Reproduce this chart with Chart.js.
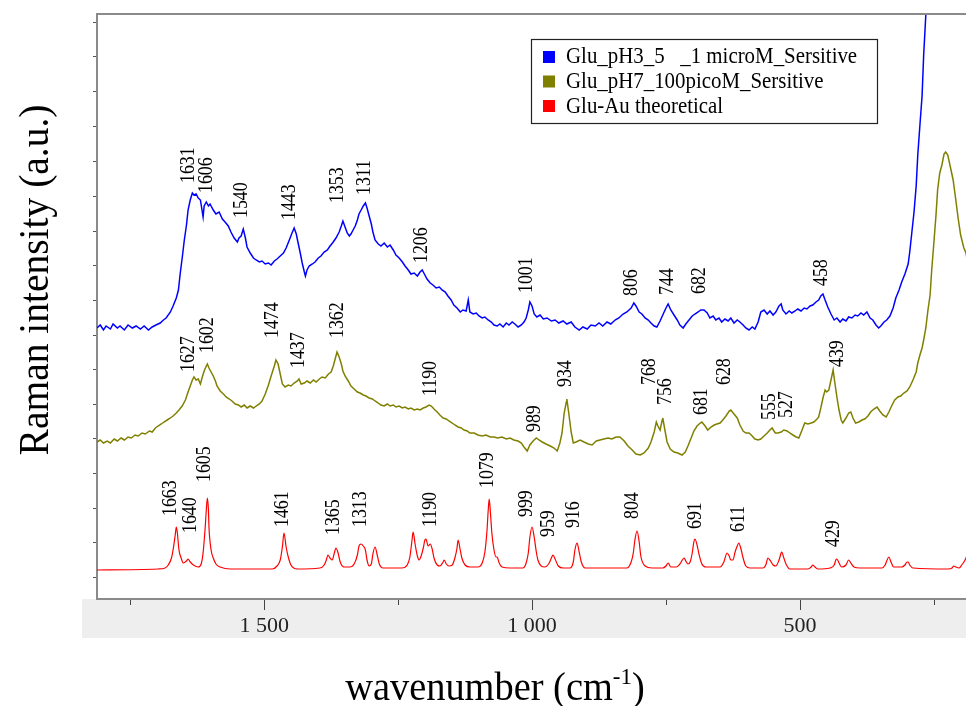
<!DOCTYPE html>
<html lang="en">
<head>
<meta charset="UTF-8">
<title>Raman spectra</title>
<script src="https://cdn.jsdelivr.net/npm/chart.js"></script>
<style>
  body { margin: 0; background: #fff; }
  #wrap { width: 966px; height: 706px; }
</style>
</head>
<body>
<div id="wrap"><canvas id="spec" width="966" height="706"></canvas></div>
<script>
// values: wavenumber (cm-1) and intensity (a.u., offset spectra)
const blueWn = [1812,1806,1800,1795,1787,1782,1774,1769,1761,1754,1746,1739,1731,1724,1716,1709,1702,1694,1688,1683,
  1675,1670,1664,1660,1657,1653,1649,1645,1642,1638,1634,1631,1627,1623,1619,1616,1614,1612,1608,1604,
  1601,1595,1590,1584,1578,1573,1567,1562,1556,1550,1547,1543,1539,1535,1532,1526,1520,1515,1509,1504,
  1498,1492,1487,1481,1476,1470,1464,1459,1453,1448,1444,1440,1437,1433,1429,1425,1423,1420,1416,1410,
  1405,1399,1394,1388,1382,1377,1371,1366,1360,1356,1353,1349,1345,1341,1338,1334,1330,1326,1323,1319,
  1315,1311,1308,1304,1300,1297,1293,1287,1282,1276,1270,1265,1259,1254,1248,1242,1237,1231,1226,1220,
  1214,1209,1205,1201,1196,1190,1185,1179,1173,1168,1162,1157,1151,1146,1140,1134,1129,1123,1119,1116,
  1110,1104,1099,1093,1088,1082,1076,1071,1065,1060,1054,1048,1043,1037,1032,1026,1020,1015,1011,1007,
  1004,1000,996,991,985,979,972,964,957,950,942,935,927,920,912,905,897,890,882,875,
  868,860,853,845,838,830,823,815,810,806,800,795,789,783,778,772,767,761,756,750,
  746,741,735,729,724,718,713,707,701,696,690,685,679,673,668,662,657,651,646,640,
  634,629,623,617,612,606,601,595,589,584,578,573,567,561,556,550,545,539,535,532,
  526,520,515,509,504,498,492,487,481,476,470,465,461,457,453,448,442,436,431,425,
  420,414,409,403,397,392,386,381,375,369,364,358,353,349,343,338,332,326,321,315,
  310,304,298,295,291,287,283,280,276,272,269,265,261];
const blueInt = [271,274,269,273,270,275,271,273,269,274,271,273,270,273,269,272,274,276,279,281,
  287,293,301,309,324,341,359,374,389,399,406,404,405,401,399,389,382,393,397,393,
  395,389,385,387,380,377,373,367,361,357,361,363,370,361,352,346,341,339,337,338,
  335,336,334,338,340,343,346,351,359,366,371,365,357,347,336,327,323,329,333,335,
  337,341,343,347,349,353,357,361,367,373,378,372,366,363,365,369,373,379,385,389,
  393,396,391,383,375,367,359,355,353,356,352,354,349,344,341,337,333,329,325,326,
  323,327,329,325,320,316,314,311,312,309,307,303,299,294,291,287,289,288,299,287,
  285,286,283,281,282,279,277,274,273,275,272,276,274,277,275,272,274,277,281,289,
  297,293,285,282,284,280,281,278,279,276,278,275,277,272,269,272,270,274,273,276,
  273,277,275,279,281,285,287,291,296,293,287,285,281,279,276,273,272,278,284,291,
  295,289,284,279,274,271,275,279,283,285,287,289,289,286,281,283,279,281,277,280,
  278,281,276,279,277,274,271,269,272,270,277,287,289,285,288,284,287,293,295,289,
  285,288,286,288,290,288,291,290,293,294,297,299,303,305,299,292,285,279,281,277,
  280,278,282,281,284,283,286,284,287,281,279,274,271,273,277,279,283,291,301,309,
  317,325,335,347,367,387,413,444,474,503,544,584,629];

const oliveWn = [1812,1806,1800,1793,1787,1780,1774,1767,1761,1754,1748,1741,1735,1728,1722,1714,1709,1703,1698,1692,
  1687,1681,1675,1670,1664,1659,1653,1647,1642,1638,1634,1631,1627,1623,1619,1616,1612,1608,1606,1603,
  1599,1595,1591,1588,1582,1576,1571,1565,1560,1554,1548,1543,1537,1532,1526,1520,1515,1509,1504,1498,
  1492,1487,1481,1478,1474,1470,1466,1461,1455,1450,1444,1438,1435,1431,1425,1420,1414,1408,1403,1397,
  1392,1386,1380,1375,1371,1367,1364,1360,1356,1353,1349,1343,1338,1332,1326,1321,1315,1310,1304,1298,
  1293,1287,1282,1276,1270,1265,1259,1254,1248,1242,1237,1231,1226,1220,1214,1209,1203,1198,1192,1188,
  1183,1177,1172,1166,1160,1155,1149,1144,1138,1132,1127,1121,1116,1108,1101,1093,1086,1078,1071,1064,
  1056,1048,1041,1034,1026,1020,1015,1009,1004,998,992,987,981,974,966,959,953,948,944,940,
  936,935,931,927,923,918,910,903,895,888,880,873,866,858,851,843,836,828,821,813,
  806,798,791,783,778,772,768,765,761,757,756,752,748,742,735,728,720,714,709,703,
  698,692,686,683,677,672,666,660,655,649,644,638,632,629,623,617,612,606,601,595,
  589,584,578,573,567,561,556,552,546,541,535,530,524,519,513,507,502,496,491,485,
  479,474,468,465,461,457,453,450,446,442,438,435,431,427,423,420,414,409,405,401,
  396,390,384,379,373,368,362,356,351,345,339,334,328,323,317,312,306,300,295,289,
  283,280,276,272,269,265,261,257,254,250,246,243,239,235,231,228,224,220,214,209,
  205,200,194,190,187];
const oliveInt = [157,159,156,158,156,160,158,161,159,162,161,164,163,166,165,168,167,171,173,175,
  177,179,181,183,186,189,193,199,207,213,219,222,219,220,215,221,228,233,235,231,
  227,223,218,213,208,205,202,200,198,195,194,192,194,191,193,191,193,195,198,205,
  214,223,233,239,235,225,215,212,214,213,216,218,220,215,216,218,216,219,217,220,
  222,221,225,227,233,241,247,242,235,228,223,218,213,210,207,206,204,203,201,200,
  198,196,194,193,195,193,194,192,193,191,192,190,191,189,190,189,191,192,194,193,
  190,187,184,181,180,178,176,174,172,171,169,168,166,166,164,163,164,162,162,161,
  162,160,161,159,158,156,152,148,154,158,161,159,157,155,153,151,148,156,166,186,
  197,200,184,167,156,157,159,157,155,154,158,159,160,161,160,162,162,158,153,149,
  145,144,146,151,157,167,177,173,169,179,181,169,157,150,147,146,144,147,153,161,
  168,173,176,177,173,169,172,174,175,176,179,183,188,189,185,181,174,168,166,166,
  163,160,159,160,163,166,169,171,166,166,167,169,168,166,164,162,161,169,176,175,
  176,177,180,182,191,201,209,207,209,219,229,217,202,189,179,176,181,186,187,181,
  176,177,179,180,183,187,190,192,188,184,182,187,194,199,202,203,206,208,212,219,
  227,236,244,251,259,271,289,304,329,356,384,409,426,434,445,447,444,434,419,399,
  382,364,351,346,337];

const redWn = [1812,1698,1685,1679,1673,1670,1666,1664,1662,1659,1655,1651,1645,1642,1638,1632,1623,1617,1614,1610,
  1608,1606,1604,1603,1599,1595,1590,1582,1563,1485,1476,1470,1466,1463,1459,1455,1450,1438,1396,1388,
  1384,1381,1377,1373,1369,1366,1362,1358,1351,1340,1332,1326,1323,1319,1315,1311,1308,1304,1300,1297,
  1293,1289,1285,1278,1243,1233,1228,1224,1222,1218,1214,1211,1207,1203,1200,1198,1194,1190,1186,1183,
  1177,1172,1166,1164,1160,1155,1149,1144,1140,1138,1134,1131,1125,1116,1101,1093,1088,1084,1082,1080,
  1078,1075,1071,1067,1065,1062,1056,1041,1017,1011,1007,1004,1000,996,992,989,983,976,968,964,
  961,957,951,942,929,923,920,916,912,908,901,873,823,815,811,808,804,800,797,789,
  776,756,750,746,741,731,724,716,713,709,705,701,698,696,692,688,683,675,649,642,
  636,632,629,625,621,617,614,610,606,601,593,569,563,560,556,550,545,539,535,534,
  530,526,519,485,479,476,472,466,444,436,433,431,427,422,414,409,405,399,388,347,
  341,338,334,330,325,310,304,300,298,295,289,224,216,213,209,203,198,194,190,187];
const redInt = [29,30,31,34,41,49,64,72,66,49,41,36,38,40,37,34,32,36,46,72,
  89,101,89,72,49,41,35,32,30,30,33,39,52,66,52,42,34,30,31,34,
  39,44,41,39,46,51,46,37,32,32,35,44,53,55,53,49,39,33,35,45,
  52,44,35,31,31,34,42,59,67,54,43,39,43,51,59,60,53,55,49,41,
  34,33,37,39,35,33,34,41,51,59,49,41,34,32,32,36,47,69,87,100,
  89,66,49,42,42,37,32,31,31,36,46,62,72,62,47,39,33,32,36,41,
  44,40,33,31,31,37,49,56,47,37,31,31,31,37,46,59,68,57,43,33,
  31,31,33,36,32,32,35,41,38,35,37,46,57,60,54,44,35,32,32,37,
  46,43,39,39,47,53,56,50,41,33,31,31,35,41,39,34,33,39,46,47,
  41,35,30,30,32,34,32,30,31,34,39,40,36,32,34,39,36,32,31,31,
  34,38,42,37,32,32,34,37,37,34,31,30,31,33,32,31,34,37,41,47];

const seriesNames = ['Glu_pH3_5   _1 microM_Sersitive', 'Glu_pH7_100picoM_Sersitive', 'Glu-Au theoretical'];
const seriesColors = ['#0000ff', '#808000', '#ff0000'];

// peak labels: text, wavenumber where the label sits, intensity at the label foot
const bluePeaks = [['1631',1641,416],['1606',1607,406],['1540',1543,381],['1443',1453,379],['1353',1363,396],
  ['1311',1312,404],['1206',1206,336],['1001',1010,306],['806',814,303],['744',748,304],['682',688,305],['458',459,313]];
const olivePeaks = [['1627',1641,227],['1602',1606,246],['1474',1484,261],['1437',1436,231],['1362',1364,261],
  ['1190',1190,203],['989',996,167],['934',938,212],['768',781,214],['756',751,194],['681',683,184],
  ['628',640,214],['555',557,179],['527',525,181],['439',429,232]];
const redPeaks = [['1663',1674,83],['1640',1638,66],['1605',1612,117],['1461',1465,72],['1365',1371,64],
  ['1313',1320,72],['1190',1190,72],['1079',1084,111],['999',1011,82],['959',970,62],['916',923,71],
  ['804',812,80],['691',695,70],['611',615,67],['429',438,52]];

const xTicks = [250, 500, 750, 1000, 1250, 1500, 1750];
const xLabelled = [500, 1000, 1500];
const yTicks = [22, 57, 91, 126, 161, 195, 230, 264, 299, 334, 368, 403, 438, 472, 507, 542, 576];

const serif = "'Liberation Serif', 'Times New Roman', serif";

function squeezeText(ctx, str, x, y, size, sx, rot, align, base) {
  ctx.save();
  ctx.translate(x, y);
  if (rot) ctx.rotate(rot);
  ctx.scale(sx, 1);
  ctx.font = size + 'px ' + serif;
  ctx.fillStyle = '#000';
  ctx.textAlign = align || 'left';
  ctx.textBaseline = base || 'alphabetic';
  ctx.fillText(str, 0, 0);
  ctx.restore();
}

const decor = {
  id: 'decor',
  beforeDraw(chart) {
    const { ctx, chartArea: a } = chart;
    ctx.save();
    ctx.fillStyle = '#eeeeee';
    ctx.fillRect(82, a.bottom, chart.width - 82, 39);
    ctx.restore();
  },
  afterDraw(chart) {
    const { ctx, chartArea: a, scales: { x, y } } = chart;
    ctx.save();
    // top frame line
    ctx.strokeStyle = '#8a8a8a';
    ctx.lineWidth = 2;
    ctx.beginPath();
    ctx.moveTo(a.left - 1, a.top);
    ctx.lineTo(a.right, a.top);
    ctx.stroke();
    // x tick marks, long at the labelled ones
    ctx.strokeStyle = '#444';
    ctx.lineWidth = 1;
    xTicks.forEach(v => {
      const px = Math.round(x.getPixelForValue(v)) + 0.5;
      const len = xLabelled.includes(v) ? 10 : 5;
      ctx.beginPath();
      ctx.moveTo(px, a.bottom + 1);
      ctx.lineTo(px, a.bottom + 1 + len);
      ctx.stroke();
    });
    ctx.restore();

    // peak labels
    [bluePeaks, olivePeaks, redPeaks].forEach(list => {
      list.forEach(p => {
        squeezeText(ctx, p[0], x.getPixelForValue(p[1]), y.getPixelForValue(p[2]), 21, 0.85, -Math.PI / 2, 'left', 'middle');
      });
    });

    // legend box
    ctx.save();
    ctx.fillStyle = '#fff';
    ctx.fillRect(531, 39, 347, 84);
    ctx.strokeStyle = '#222';
    ctx.lineWidth = 1.2;
    ctx.strokeRect(531.5, 39.5, 346, 84);
    ctx.restore();
    chart.data.datasets.forEach((ds, i) => {
      const cy = 57 + i * 24.5;
      ctx.fillStyle = ds.borderColor;
      ctx.fillRect(543, cy - 6, 12, 12);
      squeezeText(ctx, ds.label, 566, 62.5 + i * 25, 24, 0.87, 0, 'left');
    });

    // axis titles
    squeezeText(ctx, 'Raman intensity (a.u.)', 48, 280, 42, 0.94, -Math.PI / 2, 'center');
    const size = 40, sx = 0.96;
    ctx.save();
    ctx.font = size + 'px ' + serif;
    const p1 = 'wavenumber (cm', p3 = ')';
    const w1 = ctx.measureText(p1).width, w3 = ctx.measureText(p3).width;
    ctx.font = Math.round(size * 0.6) + 'px ' + serif;
    const w2 = ctx.measureText('-1').width;
    ctx.restore();
    const total = (w1 + w2 + w3) * sx;
    const x0 = 495 - total / 2, base = 700;
    squeezeText(ctx, p1, x0, base, size, sx, 0, 'left');
    squeezeText(ctx, '-1', x0 + w1 * sx, base - 16, Math.round(size * 0.6), sx, 0, 'left');
    squeezeText(ctx, p3, x0 + (w1 + w2) * sx, base, size, sx, 0, 'left');
  }
};

const pairs = (xs, ys) => xs.map((v, i) => ({ x: v, y: ys[i] }));

new Chart(document.getElementById('spec'), {
  type: 'line',
  data: {
    datasets: [
      { label: seriesNames[0], data: pairs(blueWn, blueInt), borderColor: seriesColors[0], borderWidth: 1.5, pointRadius: 0, tension: 0 },
      { label: seriesNames[1], data: pairs(oliveWn, oliveInt), borderColor: seriesColors[1], borderWidth: 1.5, pointRadius: 0, tension: 0 },
      { label: seriesNames[2], data: pairs(redWn, redInt), borderColor: seriesColors[2], borderWidth: 1.2, pointRadius: 0, cubicInterpolationMode: 'monotone' }
    ]
  },
  options: {
    responsive: false,
    animation: false,
    layout: { padding: { top: 14, left: 0, right: 0, bottom: 0 } },
    plugins: { legend: { display: false }, tooltip: { enabled: false } },
    scales: {
      x: {
        type: 'linear',
        reverse: true,
        min: 190,
        max: 1812,
        afterBuildTicks: ax => { ax.ticks = xTicks.map(v => ({ value: v })); },
        afterFit: ax => { ax.height = 107; },
        grid: { display: false },
        border: { color: '#8a8a8a', width: 2 },
        ticks: {
          autoSkip: false,
          maxRotation: 0,
          padding: 6,
          color: '#222',
          font: { family: serif, size: 22 },
          callback: v => xLabelled.includes(v) ? String(v).replace(/\B(?=(\d{3})+(?!\d))/g, ' ') : ''
        }
      },
      y: {
        min: 0,
        max: 585,
        afterBuildTicks: ax => { ax.ticks = yTicks.map(v => ({ value: v })); },
        afterFit: ax => { ax.width = 97; },
        grid: { drawOnChartArea: false, tickLength: 4, tickColor: '#555' },
        border: { color: '#8a8a8a', width: 2 },
        ticks: { display: false }
      }
    }
  },
  plugins: [decor]
});
</script>
</body>
</html>
